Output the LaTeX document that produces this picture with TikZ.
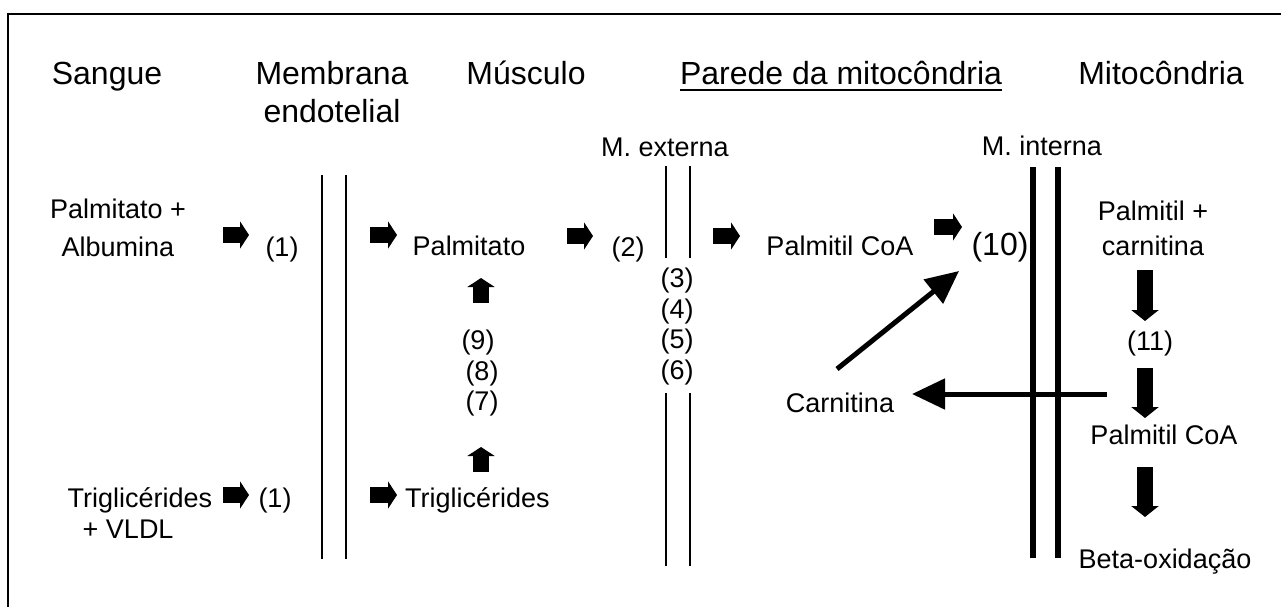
\documentclass[tikz,border=0pt]{standalone}
\usepackage{fontspec}
\setmainfont{Liberation Sans}
\usetikzlibrary{positioning, arrows.meta}
\newcommand\corpo{\fontsize{27}{38}\selectfont}
\newcommand\titulo{\fontsize{32}{38}\selectfont}
\tikzset{
  txt/.style={inner sep=0pt, anchor=base, font=\corpo},
  tit/.style={txt, font=\titulo},
  memb/.style={line width=2pt},
  membg/.style={line width=6pt},
  bloco/.style={line width=16pt, -{Triangle[length=9pt,width=27pt]}},
  blocog/.style={line width=16pt, -{Triangle[length=11pt,width=27pt]}},
  fina/.style={line width=5pt, -{Triangle[length=33pt,width=30pt]}}
}
\begin{document}
\begin{tikzpicture}[x=1pt, y=-1pt]
    \useasboundingbox (0,0) rectangle (1281,607);
    \draw[line width=2pt] (8,607) |- (1281,14);
    % titulos (base = ultima linha)
    \node[tit] (sangue) at (107,85) {Sangue};
    \node[tit, align=center] (membrana) at (332,123) {Membrana\\endotelial};
    \node[tit] (musculo) at (526,85) {Músculo};
    \node[tit] (parede) at (841,85) {Parede da mitocôndria};
    \node[tit] (mitoc) at (1161,85) {Mitocôndria};
    \draw[line width=2pt] ([yshift=-5pt]parede.base west) -- ([yshift=-5pt]parede.base east);
    \node[txt] (mext) at (665,156) {M. externa};
    \node[txt] (mint) at (1042,155) {M. interna};

    % membranas
    \draw[memb] (322,175) -- (322,559) (346,175) -- (346,559);
    \draw[memb] (666,166) -- (666,258) (690,166) -- (690,258);
    \draw[memb] (666,393) -- (666,566) (690,393) -- (690,566);
    \draw[membg] (1033,167) -- (1033,558) (1058,167) -- (1058,558);

    \node[txt, align=center] (palb) at (118,256) {Palmitato +\\Albumina};
    \node[txt] (um) at (282,256) {(1)};
    \node[txt] (palm) at (469,255) {Palmitato};
    \node[txt] (dois) at (628,256) {(2)};
    \node[txt] (pcoa) at (840,255) {Palmitil CoA};
    \node[tit] (dez) at (1000,255) {(10)};
    \node[txt, align=center, font=\fontsize{27}{35}\selectfont] (pcarn) at (1153,255) {Palmitil +\\carnitina};
    \node[txt] (onze) at (1150,350) {(11)};
    \node[txt] (pcoab) at (1164,444) {Palmitil CoA};
    \node[txt] (beta) at (1165,568) {Beta-oxidação};
    \node[txt] (carn) at (840,412) {Carnitina};

    \node[txt] (tres) at (677,287) {(3)};
    \node[txt, below=31pt of tres.base, anchor=base] (quatro) {(4)};
    \node[txt, below=30pt of quatro.base, anchor=base] (cinco) {(5)};
    \node[txt, below=31pt of cinco.base, anchor=base] (seis) {(6)};
    \node[txt] (nove) at (478,349) {(9)};
    \node[txt, below=31pt of nove.base, anchor=base, xshift=4pt] (oito) {(8)};
    \node[txt, below=30pt of oito.base, anchor=base] (sete) {(7)};

    \node[txt, align=left, font=\fontsize{27}{31}\selectfont] (trig) at (140,538) {Triglicérides\\\hspace*{15pt}+ VLDL};
    \node[txt] (umb) at (275,507) {(1)};
    \node[txt, anchor=base west] (trigb) at (405,507) {Triglicérides};

    % setas grossas
    \foreach \nome/\xa/\ya/\xb/\yb in {a/223/235/249/235, b/370/235/397/235, c/567/236/593/236,
        d/713/236/740/236, e/934/227/962/227, f/223/495/249/495, g/370/495/397/495,
        u/481/303/481/278, v/481/472/481/447}
      {\coordinate (s\nome) at (\xa,\ya); \coordinate (e\nome) at (\xb,\yb);
       \draw[bloco] (s\nome) -- (e\nome);}
    \foreach \nome/\ya/\yb in {p/270/321, q/368/418, r/467/517}
      {\coordinate (s\nome) at (1145,\ya); \coordinate (e\nome) at (1145,\yb);
       \draw[blocog] (s\nome) -- (e\nome);}

    \coordinate (volta) at (1107,394);
    \coordinate (chega) at (912,394);
    \draw[fina] (volta) -- (chega);
    \coordinate (sai) at (837,369);
    \coordinate (entra) at (959,271);
    \draw[fina] (sai) -- (entra);
\end{tikzpicture}
\end{document}
